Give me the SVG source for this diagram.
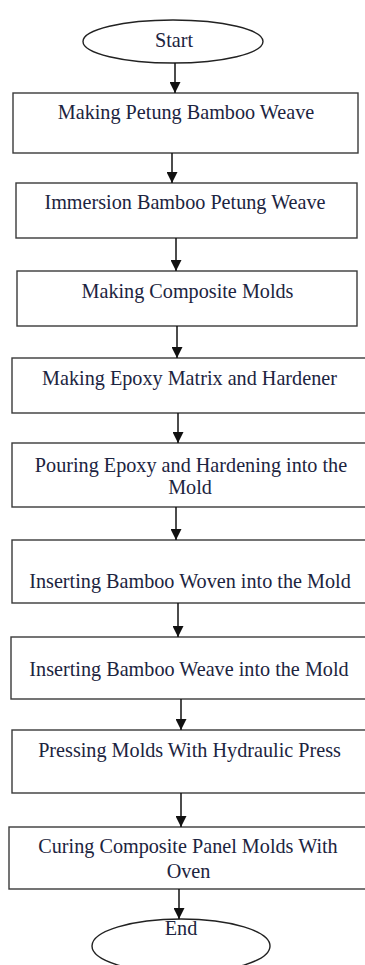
<svg xmlns="http://www.w3.org/2000/svg" width="365" height="965" viewBox="0 0 365 965">
<style>
.box{fill:#fff;stroke:#3a3a3a;stroke-width:1.4}
.term{fill:#fff;stroke:#222;stroke-width:1.4}
.lbl{font-family:'Liberation Serif','DejaVu Serif',serif;font-size:20.2px;fill:#1c2440;text-anchor:middle}
.conn{stroke:#111;stroke-width:1.5;fill:none}
</style>
<defs>
<marker id="ah" markerUnits="userSpaceOnUse" markerWidth="11" markerHeight="11" viewBox="0 0 11 11" refX="11" refY="5.5" orient="auto">
<path d="M0,0 L11,5.5 L0,11 Z" fill="#111"/>
</marker>
</defs>
<rect width="365" height="965" fill="#fff"/>
<g id="start"><ellipse class="term" cx="173" cy="41.5" rx="90" ry="21.5"/><text class="lbl" x="174" y="47">Start</text></g>
<g id="n1"><rect class="box" x="13" y="93" width="345" height="60"/><text class="lbl" x="186" y="119">Making Petung Bamboo Weave</text></g>
<g id="n2"><rect class="box" x="16" y="183" width="341" height="55"/><text class="lbl" x="185" y="209">Immersion Bamboo Petung Weave</text></g>
<g id="n3"><rect class="box" x="17" y="271" width="340" height="55"/><text class="lbl" x="187.5" y="298">Making Composite Molds</text></g>
<g id="n4"><rect class="box" x="12" y="358" width="356" height="55"/><text class="lbl" x="189.5" y="385">Making Epoxy Matrix and Hardener</text></g>
<g id="n5"><rect class="box" x="12" y="443" width="356" height="64"/><text class="lbl" x="191" y="472">Pouring Epoxy and Hardening into the</text><text class="lbl" x="190" y="494">Mold</text></g>
<g id="n6"><rect class="box" x="12" y="540" width="356" height="63"/><text class="lbl" x="190" y="588">Inserting Bamboo Woven into the Mold</text></g>
<g id="n7"><rect class="box" x="11" y="637" width="357" height="62"/><text class="lbl" x="189" y="676">Inserting Bamboo Weave into the Mold</text></g>
<g id="n8"><rect class="box" x="12" y="730" width="356" height="63"/><text class="lbl" x="189.5" y="757">Pressing Molds With Hydraulic Press</text></g>
<g id="n9"><rect class="box" x="9" y="827" width="359" height="62"/><text class="lbl" x="188" y="853">Curing Composite Panel Molds With</text><text class="lbl" x="188.5" y="878">Oven</text></g>
<g id="end"><ellipse class="term" cx="181" cy="946" rx="89" ry="27"/><text class="lbl" x="181" y="935">End</text></g>
<g id="connectors">
<line class="conn" x1="175" y1="63" x2="175" y2="93" marker-end="url(#ah)"/>
<line class="conn" x1="172" y1="153" x2="172" y2="183" marker-end="url(#ah)"/>
<line class="conn" x1="176" y1="238" x2="176" y2="271" marker-end="url(#ah)"/>
<line class="conn" x1="177" y1="326" x2="177" y2="358" marker-end="url(#ah)"/>
<line class="conn" x1="178" y1="413" x2="178" y2="443" marker-end="url(#ah)"/>
<line class="conn" x1="176" y1="507" x2="176" y2="540" marker-end="url(#ah)"/>
<line class="conn" x1="178" y1="603" x2="178" y2="637" marker-end="url(#ah)"/>
<line class="conn" x1="181" y1="699" x2="181" y2="730" marker-end="url(#ah)"/>
<line class="conn" x1="181" y1="793" x2="181" y2="827" marker-end="url(#ah)"/>
<line class="conn" x1="179" y1="889" x2="179" y2="919" marker-end="url(#ah)"/>
</g>
</svg>
